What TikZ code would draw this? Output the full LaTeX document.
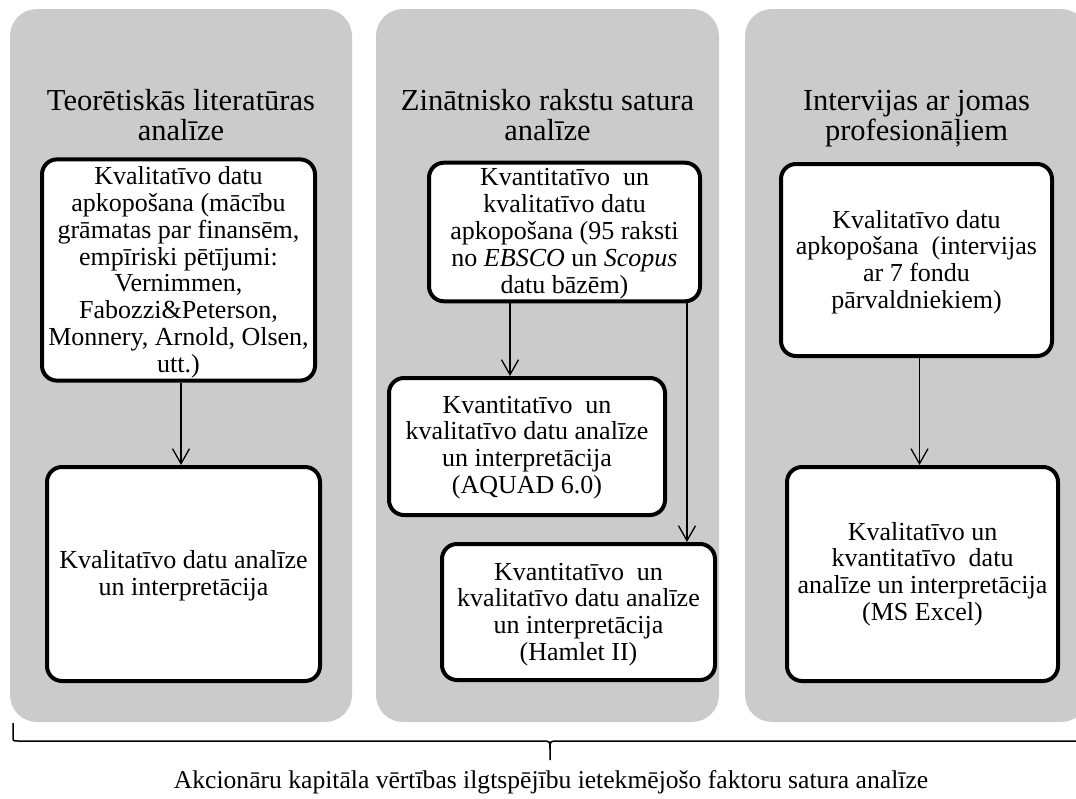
\documentclass[tikz,border=0pt]{standalone}
\usepackage{fontspec}
\setmainfont{Liberation Serif}
\usetikzlibrary{arrows.meta}
\definecolor{panelgray}{RGB}{203,203,203}
\newcommand\myTop[1]{\rule{0pt}{#1pt}}
\newcommand\myBot{\rule[-8pt]{0pt}{8pt}}
\tikzset{
  panel/.style={fill=panelgray, rounded corners=27pt, inner sep=0pt, outer sep=0pt},
  stepbox/.style={draw=black, fill=white, line width=4pt, rounded corners=15pt, inner sep=0pt, align=center, font=\fontsize{26}{26.9}\selectfont},
  ttl/.style={font=\fontsize{30.5}{30.5}\selectfont, anchor=base, inner sep=0pt},
  arr/.style={line width=1.3pt, -{Straight Barb[length=15pt,width=17pt]}},
  bracestyle/.style={line width=1.5pt},
}
\begin{document}
\begin{tikzpicture}[x=1pt,y=-1pt]
\useasboundingbox (0,0) rectangle (1076,798);
\clip (0,0) rectangle (1076,798);
% panels
\node[panel, minimum width=342pt, minimum height=713pt] (p1) at (181,365.5) {};
\node[panel, minimum width=343pt, minimum height=713pt] (p2) at (547.5,365.5) {};
\node[panel, minimum width=343pt, minimum height=713pt] (p3) at (916.5,365.5) {};
% titles
\node[ttl] (t1a) at (181,110) {Teorētiskās literatūras};
\node[ttl] (t1b) at (181,140) {analīze};
\node[ttl] (t2a) at (547.5,110) {Zinātnisko rakstu satura};
\node[ttl] (t2b) at (547.5,140) {analīze};
\node[ttl] (t3a) at (916.5,110) {Intervijas ar jomas};
\node[ttl] (t3b) at (916.5,140) {profesionāļiem};
% boxes
\node[stepbox, minimum width=273pt, minimum height=216pt] (a1) at (178.5,270)
  {\myTop{24.9}Kvalitatīvo datu\\apkopošana (mācību\\grāmatas par finansēm,\\empīriski pētījumi:\\Vernimmen,\\Fabozzi\&Peterson,\\Monnery, Arnold, Olsen,\\utt.)\myBot};
\node[stepbox, minimum width=273pt, minimum height=214pt] (a2) at (183.5,574)
  {\myTop{23.5}Kvalitatīvo datu analīze\\un interpretācija\myBot};
\node[stepbox, minimum width=271pt, minimum height=136pt] (b1) at (564.5,232)
  {\myTop{23}Kvantitatīvo~ un\\kvalitatīvo datu\\apkopošana (95 raksti\\no \emph{EBSCO} un \emph{Scopus}\\datu bāzēm)\myBot};
\node[stepbox, minimum width=276pt, minimum height=137pt] (b2) at (527,446.5)
  {\myTop{21.7}Kvantitatīvo~ un\\kvalitatīvo datu analīze\\un interpretācija\\(AQUAD 6.0)\myBot};
\node[stepbox, minimum width=273pt, minimum height=136pt] (b3) at (578.5,612)
  {\myTop{24.7}Kvantitatīvo~ un\\kvalitatīvo datu analīze\\un interpretācija\\(Hamlet II)\myBot};
\node[stepbox, minimum width=271pt, minimum height=192pt] (c1) at (916.5,260)
  {\myTop{24.7}Kvalitatīvo datu\\apkopošana~ (intervijas\\ar 7 fondu\\pārvaldniekiem)\myBot};
\node[stepbox, minimum width=271pt, minimum height=214pt] (c2) at (922.5,574)
  {\myTop{20.7}Kvalitatīvo un\\kvantitatīvo~ datu\\analīze un interpretācija\\(MS Excel)\myBot};
% connectors
\coordinate (ax) at (181,0);
\coordinate (bx) at (510,0);
\coordinate (bxx) at (687,0);
\coordinate (cx) at (919.5,0);
\draw[arr] (a1.south -| ax) -- (a2.north -| ax);
\draw[arr] (b1.south -| bx) -- (b2.north -| bx);
\draw[arr] (b1.south -| bxx) -- (b3.north -| bxx);
\draw[arr] (c1.south -| cx) -- (c2.north -| cx);
% brace
\coordinate (brL) at (13,723);
\coordinate (brM) at (550,760);
\coordinate (brR) at (1080,741);
\draw[bracestyle] (brL) -- (13,736) .. controls (13,741) .. (18,741) -- (542,741) .. controls (550,741) .. (550,749) -- (brM);
\draw[bracestyle] (brR) -- (558,741) .. controls (550,741) .. (550,749);
% caption
\node[anchor=base, inner sep=0pt, font=\fontsize{25.6}{27}\selectfont] (cap) at (551,788)
  {Akcionāru kapitāla vērtības ilgtspējību ietekmējošo faktoru satura analīze};
\end{tikzpicture}
\end{document}
